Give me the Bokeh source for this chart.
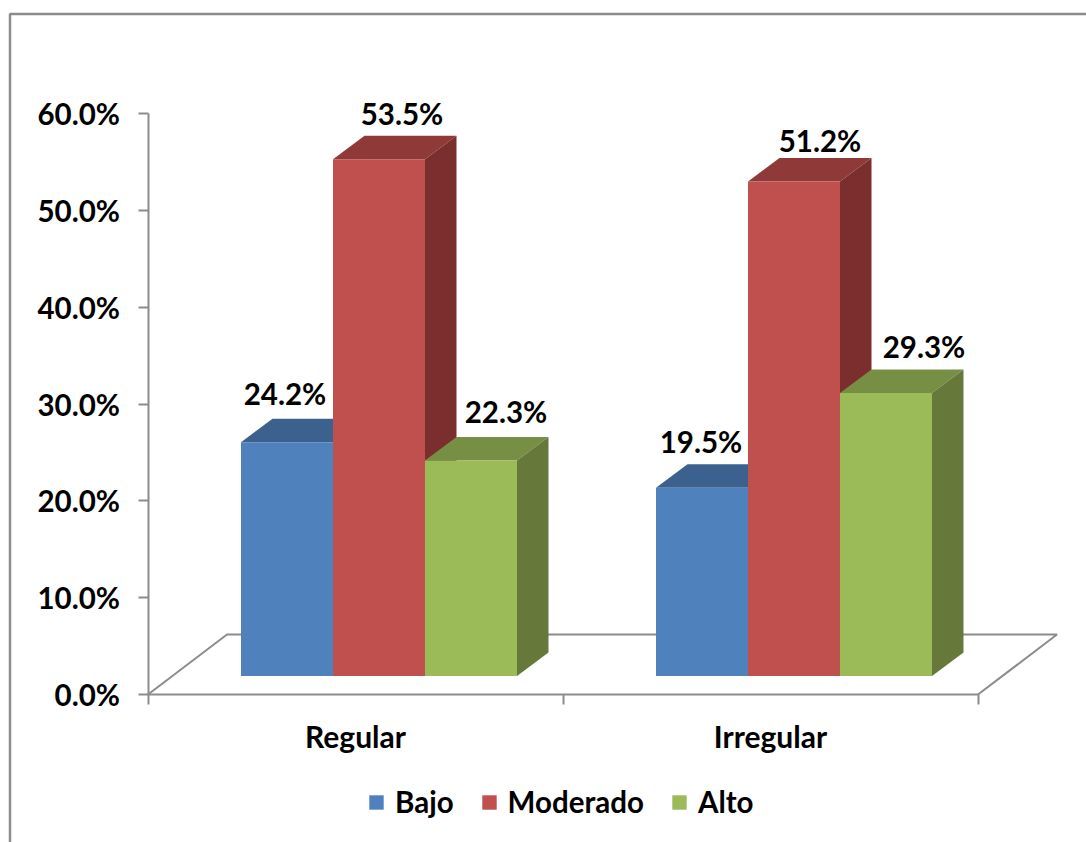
from bokeh.plotting import figure
from bokeh.embed import file_html
from bokeh.resources import INLINE
from bokeh.core.properties import value
from bokeh.models import (ColumnDataSource, FixedTicker, Legend, LegendItem, Range1d, BoxAnnotation, LinearAxis)

categories = ["Regular", "Irregular"]
series_names = ["Bajo", "Moderado", "Alto"]
bajo = [24.2, 19.5]
moderado = [53.5, 51.2]
alto = [22.3, 29.3]
series_values = [bajo, moderado, alto]
y_ticks = [0, 10, 20, 30, 40, 50, 60]
y_tick_labels = ["0.0%", "10.0%", "20.0%", "30.0%", "40.0%", "50.0%", "60.0%"]

front_colors = ["#4F81BD", "#C0504D", "#9BBB59"]
top_colors = ["#3C618F", "#8F3A38", "#778F45"]
side_colors = ["#2F4C70", "#7A2F2E", "#66783A"]
GRAY = "#8C8C8C"
FONT = "Lato"

W, H = 1086, 842
AX_X, AX_Y = 147.5, 694   # where the axes cross, in pixels of the canvas

PX_X = 415.0       # pixels per category
PX_Y = 9.683       # pixels per percentage point
BAR_SCALE = 0.9975
BASE = 18.5 / PX_Y
BAR_START = 93 / PX_X
BAR_W = 92 / PX_X
DEPTH_X = 31.5 / PX_X
DEPTH_Y = 23.5 / PX_Y
FLOOR_X = 79 / PX_X
FLOOR_Y = 60 / PX_Y

# Label offsets from the top centre of each bar's front, in pixels
label_dx = [[-2, -1], [23, 26], [35, 38]]
label_dy = [[-49, -46], [-46, -41], [-49, -46]]

p = figure(
    frame_width=W, frame_height=H,
    min_border_left=0, min_border_right=0, min_border_top=0, min_border_bottom=0,
    x_range=Range1d(-AX_X / PX_X, (W - AX_X) / PX_X),
    y_range=Range1d(-(H - AX_Y) / PX_Y, AX_Y / PX_Y),
    x_axis_type=None, y_axis_type=None,
    output_backend="svg", toolbar_location=None, tools="",
)
p.outline_line_color = None
p.grid.visible = False

# Outer chart border
p.add_layout(BoxAnnotation(left=9.5, right=1300, top=13.5, bottom=1300,
                           left_units="canvas", right_units="canvas",
                           top_units="canvas", bottom_units="canvas",
                           fill_alpha=0, line_color=GRAY, line_width=2.5, line_alpha=1))

# Floor
p.line([0, FLOOR_X, 2 + FLOOR_X, 2], [0, FLOOR_Y, FLOOR_Y, 0], line_color=GRAY, line_width=2)

legend_items = []
for s, name in enumerate(series_names):
    vals = series_values[s]
    tops = [BASE + v * BAR_SCALE for v in vals]
    lefts = [g + BAR_START + s * BAR_W for g in range(len(vals))]
    rights = [l + BAR_W for l in lefts]
    p.patches(
        [[l, r, r + DEPTH_X, l + DEPTH_X] for l, r in zip(lefts, rights)],
        [[t, t, t + DEPTH_Y, t + DEPTH_Y] for t in tops],
        fill_color=top_colors[s], line_color=None,
    )
    p.patches(
        [[r, r + DEPTH_X, r + DEPTH_X, r] for r in rights],
        [[BASE, BASE + DEPTH_Y, t + DEPTH_Y, t] for t in tops],
        fill_color=side_colors[s], line_color=None,
    )
    r_front = p.quad(left=lefts, right=rights, bottom=BASE, top=tops,
                     fill_color=front_colors[s], line_color=None)
    legend_items.append(LegendItem(label=name, renderers=[r_front]))

for s in range(3):
    vals = series_values[s]
    src = ColumnDataSource(dict(
        x=[g + BAR_START + (s + 0.5) * BAR_W for g in range(len(vals))],
        y=[BASE + v * BAR_SCALE for v in vals],
        t=["%.1f%%" % v for v in vals],
        dx=label_dx[s],
        dy=label_dy[s],
    ))
    p.text("x", "y", text="t", source=src, x_offset="dx", y_offset="dy",
           text_font=value(FONT), text_font_style="bold", text_font_size="29.5px",
           text_color="#000000", text_align="center", text_baseline="middle")

# Axes
ya = LinearAxis(fixed_location=0)
ya.ticker = FixedTicker(ticks=y_ticks)
ya.major_label_overrides = {t: l for t, l in zip(y_ticks, y_tick_labels)}
ya.bounds = (0, 60)
ya.axis_line_color = GRAY
ya.axis_line_width = 2
ya.major_tick_line_color = GRAY
ya.major_tick_line_width = 2
ya.major_tick_out = 10
ya.major_tick_in = 0
ya.minor_tick_out = 0
ya.minor_tick_in = 0
ya.major_label_standoff = 18
ya.major_label_text_font = FONT
ya.major_label_text_font_style = "bold"
ya.major_label_text_font_size = "29.5px"
ya.major_label_text_color = "#000000"
p.add_layout(ya, "left")

xa = LinearAxis(fixed_location=0)
xa.ticker = FixedTicker(ticks=[0.5, 1.5], minor_ticks=[0, 1, 2])
xa.major_label_overrides = {0.5: categories[0], 1.5: categories[1]}
xa.bounds = (0, 2)
xa.axis_line_color = GRAY
xa.axis_line_width = 2
xa.major_tick_out = 0
xa.major_tick_in = 0
xa.minor_tick_line_color = GRAY
xa.minor_tick_line_width = 2
xa.minor_tick_out = 10
xa.minor_tick_in = 0
xa.major_label_standoff = 13
xa.major_label_text_font = FONT
xa.major_label_text_font_style = "bold"
xa.major_label_text_font_size = "30px"
xa.major_label_text_color = "#000000"
p.add_layout(xa, "below")

# Legend
legend = Legend(items=legend_items, orientation="horizontal", location=(367, H - 819),
                spacing=26, padding=0, margin=0, glyph_width=18, glyph_height=18,
                label_standoff=10, label_text_font=FONT, label_text_font_style="bold",
                label_text_font_size="29.5px", label_text_color="#000000",
                border_line_color=None, background_fill_alpha=0)
p.add_layout(legend, "center")

open("out.html", "w").write(file_html(p, INLINE))
